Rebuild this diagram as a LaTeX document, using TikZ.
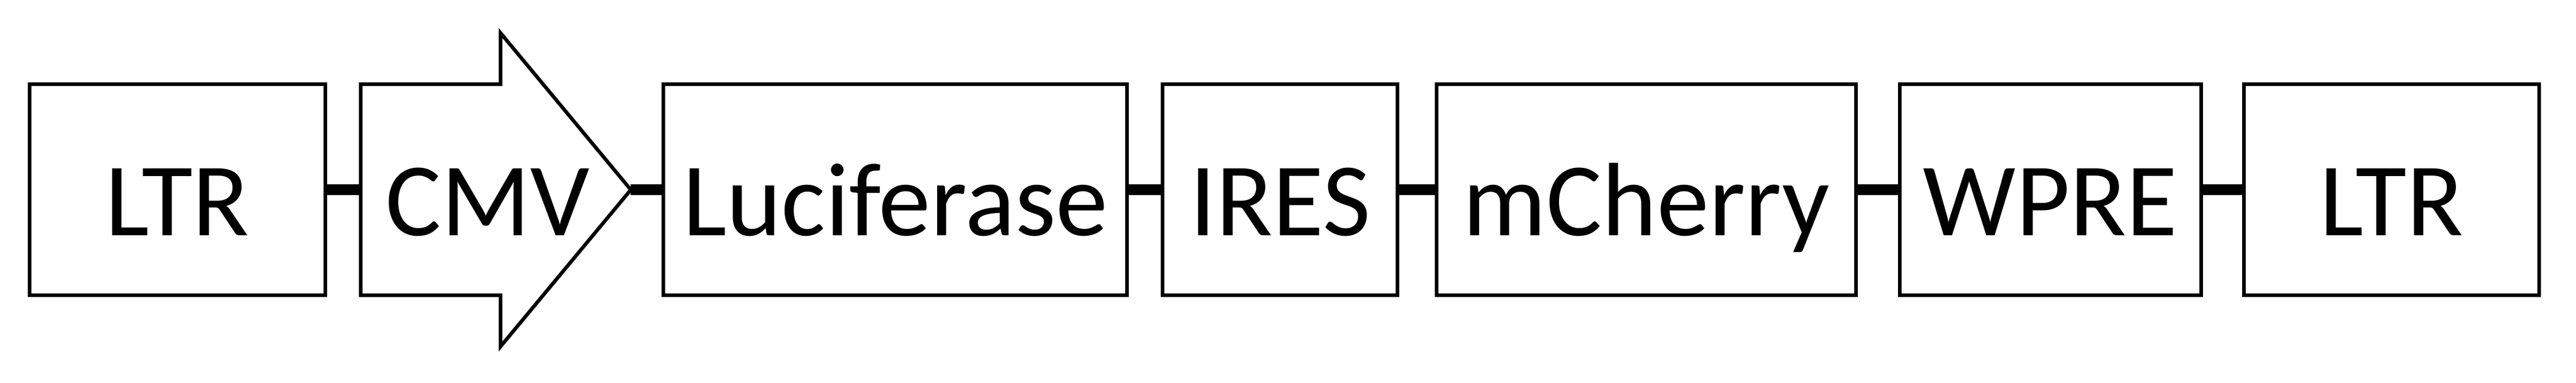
\documentclass[tikz,border=0pt]{standalone}
\usepackage{fontspec}
\setmainfont{Carlito}
\usepackage{tikz}

\begin{document}
\begin{tikzpicture}[
		gene/.style={draw, line width=0.075cm, minimum height=4.41cm, text height=2cm, text depth=0.09cm, inner sep=0pt, font=\fontsize{62}{70}\selectfont},
		link/.style={line width=0.22cm}]
				
				\useasboundingbox (0,0) rectangle (53.78,8);
				\node[gene, minimum width=6.17cm] (ltrA) at (3.705,4.035) {LTR};
				% CMV promoter arrow
				\draw[line width=0.075cm, line join=miter] (7.53,6.24) -- (10.45,6.24) -- (10.45,7.31) -- (13.17,4.035) -- (10.45,0.76) -- (10.45,1.83) -- (7.53,1.83) -- cycle;
				\coordinate (cmvin) at (7.53,4.035);
				\coordinate (cmvtip) at (13.17,4.035);
				\node[gene, draw=none] (cmv) at (10.18,4.035) {CMV};
				\node[gene, minimum width=9.68cm] (luc) at (18.69,4.035) {Luciferase};
				\node[gene, minimum width=4.91cm] (ires) at (26.725,4.035) {IRES};
				\node[gene, minimum width=8.76cm] (mch) at (34.37,4.035) {mCherry};
				\node[gene, minimum width=6.29cm] (wpre) at (42.805,4.035) {WPRE};
				\node[gene, minimum width=6.16cm] (ltrB) at (49.93,4.035) {LTR};
				% linkers
				\draw[link] (ltrA.east) -- (cmvin);
				\draw[link] (cmvtip) -- (luc.west);
				\draw[link] (luc.east) -- (ires.west);
				\draw[link] (ires.east) -- (mch.west);
				\draw[link] (mch.east) -- (wpre.west);
				\draw[link] (wpre.east) -- (ltrB.west);
			\end{tikzpicture}
\end{document}
